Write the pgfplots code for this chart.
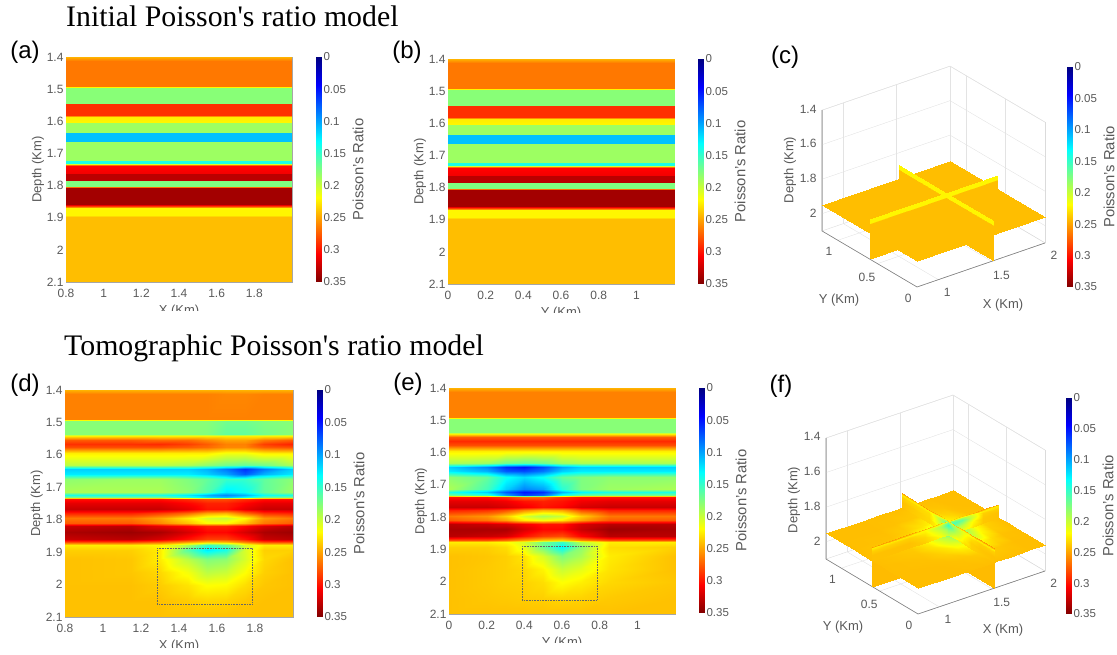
\documentclass[border=0pt]{standalone}
\usepackage{pgfplots}
\pgfplotsset{compat=1.18}
\usepackage{pgfplotstable}
\usepgfplotslibrary{patchplots}
\usepackage{fontspec}
\setmainfont{Liberation Sans}
\newfontfamily\serif{Liberation Serif}
\definecolor{tx}{gray}{0.35}
\pgfplotstableread[row sep=\\]{
u d m\\
0 1.40 .245\\1 1.40 .245\\0 1.412 .265\\1 1.412 .265\\0 1.49 .265\\1 1.49 .265\\0 1.496 .178\\1 1.496 .178\\
0 1.542 .178\\1 1.542 .178\\0 1.547 .29\\1 1.547 .29\\0 1.582 .29\\1 1.582 .29\\0 1.587 .225\\1 1.587 .225\\
0 1.602 .222\\1 1.602 .222\\0 1.606 .185\\1 1.606 .185\\0 1.633 .185\\1 1.633 .185\\0 1.636 .11\\1 1.636 .11\\
0 1.661 .11\\1 1.661 .11\\0 1.666 .185\\1 1.666 .185\\0 1.72 .185\\1 1.72 .185\\0 1.723 .14\\1 1.723 .14\\
0 1.731 .14\\1 1.731 .14\\0 1.736 .27\\1 1.736 .27\\0 1.74 .305\\1 1.74 .305\\0 1.76 .31\\1 1.76 .31\\
0 1.765 .33\\1 1.765 .33\\0 1.782 .33\\1 1.782 .33\\0 1.785 .265\\1 1.785 .265\\0 1.787 .175\\1 1.787 .175\\
0 1.80 .175\\1 1.80 .175\\0 1.804 .27\\1 1.804 .27\\0 1.808 .338\\1 1.808 .338\\0 1.858 .338\\1 1.858 .338\\
0 1.866 .26\\1 1.866 .26\\0 1.87 .222\\1 1.87 .222\\0 1.893 .222\\1 1.893 .222\\0 1.897 .241\\1 1.897 .241\\
0 2.1 .241\\1 2.1 .241\\
}\layered
\pgfplotstableread[row sep=\\]{
x d m\\
.8 1.40 .245\\1.15 1.40 .245\\1.3 1.40 .245\\1.45 1.40 .245\\1.55 1.40 .245\\1.65 1.40 .245\\1.75 1.40 .245\\1.85 1.40 .245\\2 1.40 .245\\
.8 1.412 .262\\1.15 1.412 .262\\1.3 1.412 .262\\1.45 1.412 .262\\1.55 1.412 .262\\1.65 1.412 .26\\1.75 1.412 .26\\1.85 1.412 .262\\2 1.412 .262\\
.8 1.49 .262\\1.15 1.49 .262\\1.3 1.49 .262\\1.45 1.49 .262\\1.55 1.49 .262\\1.65 1.49 .262\\1.75 1.49 .262\\1.85 1.49 .262\\2 1.49 .262\\
.8 1.497 .178\\1.15 1.497 .178\\1.3 1.497 .178\\1.45 1.497 .178\\1.55 1.497 .178\\1.65 1.497 .17\\1.75 1.497 .17\\1.85 1.497 .175\\2 1.497 .178\\
.8 1.535 .178\\1.15 1.535 .178\\1.3 1.535 .178\\1.45 1.535 .178\\1.55 1.535 .176\\1.65 1.535 .165\\1.75 1.535 .165\\1.85 1.535 .172\\2 1.535 .178\\
.8 1.542 .225\\1.15 1.542 .225\\1.3 1.542 .225\\1.45 1.542 .225\\1.55 1.542 .225\\1.65 1.542 .225\\1.75 1.542 .225\\1.85 1.542 .225\\2 1.542 .225\\
.8 1.553 .275\\1.15 1.553 .275\\1.3 1.553 .27\\1.45 1.553 .27\\1.55 1.553 .26\\1.65 1.553 .25\\1.75 1.553 .25\\1.85 1.553 .265\\2 1.553 .275\\
.8 1.565 .29\\1.15 1.565 .29\\1.3 1.565 .292\\1.45 1.565 .285\\1.55 1.565 .275\\1.65 1.565 .262\\1.75 1.565 .262\\1.85 1.565 .285\\2 1.565 .295\\
.8 1.577 .28\\1.15 1.577 .28\\1.3 1.577 .28\\1.45 1.577 .275\\1.55 1.577 .27\\1.65 1.577 .26\\1.75 1.577 .26\\1.85 1.577 .275\\2 1.577 .28\\
.8 1.595 .225\\1.15 1.595 .225\\1.3 1.595 .225\\1.45 1.595 .225\\1.55 1.595 .225\\1.65 1.595 .215\\1.75 1.595 .215\\1.85 1.595 .225\\2 1.595 .225\\
.8 1.632 .195\\1.15 1.632 .195\\1.3 1.632 .195\\1.45 1.632 .19\\1.55 1.632 .18\\1.65 1.632 .17\\1.75 1.632 .165\\1.85 1.632 .17\\2 1.632 .19\\
.8 1.645 .115\\1.15 1.645 .115\\1.3 1.645 .115\\1.45 1.645 .115\\1.55 1.645 .105\\1.65 1.645 .085\\1.75 1.645 .06\\1.85 1.645 .085\\2 1.645 .115\\
.8 1.658 .125\\1.15 1.658 .125\\1.3 1.658 .125\\1.45 1.658 .125\\1.55 1.658 .115\\1.65 1.658 .10\\1.75 1.658 .075\\1.85 1.658 .105\\2 1.658 .125\\
.8 1.675 .18\\1.15 1.675 .185\\1.3 1.675 .185\\1.45 1.675 .175\\1.55 1.675 .165\\1.65 1.675 .15\\1.75 1.675 .15\\1.85 1.675 .165\\2 1.675 .18\\
.8 1.714 .19\\1.15 1.714 .19\\1.3 1.714 .19\\1.45 1.714 .18\\1.55 1.714 .16\\1.65 1.714 .125\\1.75 1.714 .135\\1.85 1.714 .165\\2 1.714 .185\\
.8 1.723 .14\\1.15 1.723 .14\\1.3 1.723 .14\\1.45 1.723 .125\\1.55 1.723 .105\\1.65 1.723 .09\\1.75 1.723 .105\\1.85 1.723 .135\\2 1.723 .14\\
.8 1.731 .17\\1.15 1.731 .17\\1.3 1.731 .17\\1.45 1.731 .145\\1.55 1.731 .12\\1.65 1.731 .11\\1.75 1.731 .13\\1.85 1.731 .165\\2 1.731 .17\\
.8 1.737 .30\\1.15 1.737 .30\\1.3 1.737 .30\\1.45 1.737 .29\\1.55 1.737 .28\\1.65 1.737 .28\\1.75 1.737 .29\\1.85 1.737 .30\\2 1.737 .30\\
.8 1.75 .315\\1.15 1.75 .315\\1.3 1.75 .315\\1.45 1.75 .305\\1.55 1.75 .295\\1.65 1.75 .295\\1.75 1.75 .305\\1.85 1.75 .315\\2 1.75 .315\\
.8 1.768 .325\\1.15 1.768 .325\\1.3 1.768 .325\\1.45 1.768 .315\\1.55 1.768 .30\\1.65 1.768 .30\\1.75 1.768 .315\\1.85 1.768 .325\\2 1.768 .325\\
.8 1.778 .295\\1.15 1.778 .295\\1.3 1.778 .285\\1.45 1.778 .27\\1.55 1.778 .25\\1.65 1.778 .245\\1.75 1.778 .27\\1.85 1.778 .29\\2 1.778 .295\\
.8 1.795 .265\\1.15 1.795 .265\\1.3 1.795 .25\\1.45 1.795 .225\\1.55 1.795 .205\\1.65 1.795 .20\\1.75 1.795 .22\\1.85 1.795 .255\\2 1.795 .265\\
.8 1.81 .275\\1.15 1.81 .275\\1.3 1.81 .26\\1.45 1.81 .24\\1.55 1.81 .22\\1.65 1.81 .22\\1.75 1.81 .24\\1.85 1.81 .265\\2 1.81 .275\\
.8 1.82 .325\\1.15 1.82 .33\\1.3 1.82 .315\\1.45 1.82 .305\\1.55 1.82 .295\\1.65 1.82 .295\\1.75 1.82 .305\\1.85 1.82 .32\\2 1.82 .33\\
.8 1.838 .335\\1.15 1.838 .34\\1.3 1.838 .335\\1.45 1.838 .32\\1.55 1.838 .305\\1.65 1.838 .305\\1.75 1.838 .32\\1.85 1.838 .335\\2 1.838 .34\\
.8 1.858 .325\\1.15 1.858 .33\\1.3 1.858 .32\\1.45 1.858 .30\\1.55 1.858 .285\\1.65 1.858 .285\\1.75 1.858 .30\\1.85 1.858 .325\\2 1.858 .33\\
.8 1.87 .28\\1.15 1.87 .28\\1.3 1.87 .27\\1.45 1.87 .25\\1.55 1.87 .235\\1.65 1.87 .24\\1.75 1.87 .26\\1.85 1.87 .28\\2 1.87 .28\\
.8 1.878 .225\\1.15 1.878 .225\\1.3 1.878 .22\\1.45 1.878 .19\\1.55 1.878 .15\\1.65 1.878 .165\\1.75 1.878 .205\\1.85 1.878 .225\\2 1.878 .225\\
.8 1.893 .235\\1.15 1.893 .235\\1.3 1.893 .225\\1.45 1.893 .16\\1.55 1.893 .125\\1.65 1.893 .14\\1.75 1.893 .205\\1.85 1.893 .235\\2 1.893 .235\\
.8 1.92 .24\\1.15 1.92 .238\\1.3 1.92 .225\\1.45 1.92 .195\\1.55 1.92 .175\\1.65 1.92 .18\\1.75 1.92 .205\\1.85 1.92 .232\\2 1.92 .24\\
.8 1.96 .24\\1.15 1.96 .238\\1.3 1.96 .232\\1.45 1.96 .215\\1.55 1.96 .195\\1.65 1.96 .20\\1.75 1.96 .218\\1.85 1.96 .235\\2 1.96 .24\\
.8 2.0 .24\\1.15 2.0 .24\\1.3 2.0 .236\\1.45 2.0 .228\\1.55 2.0 .218\\1.65 2.0 .22\\1.75 2.0 .23\\1.85 2.0 .238\\2 2.0 .24\\
.8 2.05 .24\\1.15 2.05 .24\\1.3 2.05 .24\\1.45 2.05 .236\\1.55 2.05 .233\\1.65 2.05 .234\\1.75 2.05 .238\\1.85 2.05 .24\\2 2.05 .24\\
.8 2.1 .24\\1.15 2.1 .24\\1.3 2.1 .24\\1.45 2.1 .24\\1.55 2.1 .24\\1.65 2.1 .24\\1.75 2.1 .24\\1.85 2.1 .24\\2 2.1 .24\\
}\tomoX
\pgfplotstableread[row sep=\\]{
x d m\\
0 1.40 .245\\.2 1.40 .245\\.3 1.40 .245\\.4 1.40 .245\\.5 1.40 .245\\.6 1.40 .245\\.7 1.40 .245\\.85 1.40 .245\\1.2 1.40 .245\\
0 1.412 .262\\.2 1.412 .262\\.3 1.412 .262\\.4 1.412 .262\\.5 1.412 .262\\.6 1.412 .262\\.7 1.412 .262\\.85 1.412 .262\\1.2 1.412 .262\\
0 1.49 .262\\.2 1.49 .262\\.3 1.49 .262\\.4 1.49 .262\\.5 1.49 .262\\.6 1.49 .262\\.7 1.49 .262\\.85 1.49 .262\\1.2 1.49 .262\\
0 1.497 .178\\.2 1.497 .178\\.3 1.497 .178\\.4 1.497 .178\\.5 1.497 .178\\.6 1.497 .178\\.7 1.497 .178\\.85 1.497 .178\\1.2 1.497 .178\\
0 1.535 .178\\.2 1.535 .178\\.3 1.535 .178\\.4 1.535 .178\\.5 1.535 .178\\.6 1.535 .178\\.7 1.535 .178\\.85 1.535 .178\\1.2 1.535 .178\\
0 1.542 .225\\.2 1.542 .225\\.3 1.542 .225\\.4 1.542 .225\\.5 1.542 .225\\.6 1.542 .225\\.7 1.542 .225\\.85 1.542 .225\\1.2 1.542 .225\\
0 1.553 .275\\.2 1.553 .275\\.3 1.553 .275\\.4 1.553 .275\\.5 1.553 .275\\.6 1.553 .275\\.7 1.553 .275\\.85 1.553 .275\\1.2 1.553 .275\\
0 1.565 .292\\.2 1.565 .292\\.3 1.565 .292\\.4 1.565 .292\\.5 1.565 .292\\.6 1.565 .292\\.7 1.565 .292\\.85 1.565 .292\\1.2 1.565 .292\\
0 1.577 .28\\.2 1.577 .28\\.3 1.577 .28\\.4 1.577 .28\\.5 1.577 .28\\.6 1.577 .28\\.7 1.577 .28\\.85 1.577 .28\\1.2 1.577 .28\\
0 1.595 .225\\.2 1.595 .225\\.3 1.595 .225\\.4 1.595 .225\\.5 1.595 .225\\.6 1.595 .225\\.7 1.595 .225\\.85 1.595 .225\\1.2 1.595 .225\\
0 1.632 .19\\.2 1.632 .185\\.3 1.632 .17\\.4 1.632 .165\\.5 1.632 .17\\.6 1.632 .185\\.7 1.632 .19\\.85 1.632 .19\\1.2 1.632 .19\\
0 1.645 .115\\.2 1.645 .09\\.3 1.645 .06\\.4 1.645 .05\\.5 1.645 .07\\.6 1.645 .10\\.7 1.645 .115\\.85 1.645 .115\\1.2 1.645 .115\\
0 1.658 .125\\.2 1.658 .105\\.3 1.658 .075\\.4 1.658 .07\\.5 1.658 .085\\.6 1.658 .115\\.7 1.658 .125\\.85 1.658 .125\\1.2 1.658 .125\\
0 1.675 .18\\.2 1.675 .165\\.3 1.675 .135\\.4 1.675 .12\\.5 1.675 .135\\.6 1.675 .165\\.7 1.675 .175\\.85 1.675 .18\\1.2 1.675 .18\\
0 1.714 .19\\.2 1.714 .155\\.3 1.714 .115\\.4 1.714 .09\\.5 1.714 .10\\.6 1.714 .145\\.7 1.714 .175\\.85 1.714 .185\\1.2 1.714 .19\\
0 1.723 .14\\.2 1.723 .115\\.3 1.723 .075\\.4 1.723 .05\\.5 1.723 .06\\.6 1.723 .105\\.7 1.723 .13\\.85 1.723 .14\\1.2 1.723 .14\\
0 1.731 .17\\.2 1.731 .15\\.3 1.731 .10\\.4 1.731 .065\\.5 1.731 .08\\.6 1.731 .14\\.7 1.731 .165\\.85 1.731 .17\\1.2 1.731 .17\\
0 1.737 .30\\.2 1.737 .30\\.3 1.737 .29\\.4 1.737 .27\\.5 1.737 .27\\.6 1.737 .29\\.7 1.737 .30\\.85 1.737 .30\\1.2 1.737 .30\\
0 1.75 .315\\.2 1.75 .315\\.3 1.75 .31\\.4 1.75 .30\\.5 1.75 .295\\.6 1.75 .30\\.7 1.75 .31\\.85 1.75 .315\\1.2 1.75 .315\\
0 1.768 .325\\.2 1.768 .325\\.3 1.768 .32\\.4 1.768 .31\\.5 1.768 .30\\.6 1.768 .305\\.7 1.768 .32\\.85 1.768 .325\\1.2 1.768 .325\\
0 1.778 .295\\.2 1.778 .29\\.3 1.778 .28\\.4 1.778 .26\\.5 1.778 .245\\.6 1.778 .25\\.7 1.778 .28\\.85 1.778 .295\\1.2 1.778 .295\\
0 1.795 .265\\.2 1.795 .255\\.3 1.795 .235\\.4 1.795 .205\\.5 1.795 .19\\.6 1.795 .20\\.7 1.795 .235\\.85 1.795 .265\\1.2 1.795 .265\\
0 1.81 .275\\.2 1.81 .265\\.3 1.81 .25\\.4 1.81 .225\\.5 1.81 .215\\.6 1.81 .225\\.7 1.81 .25\\.85 1.81 .275\\1.2 1.81 .275\\
0 1.82 .33\\.2 1.82 .325\\.3 1.82 .32\\.4 1.82 .31\\.5 1.82 .30\\.6 1.82 .30\\.7 1.82 .32\\.85 1.82 .33\\1.2 1.82 .33\\
0 1.838 .335\\.2 1.838 .335\\.3 1.838 .335\\.4 1.838 .32\\.5 1.838 .305\\.6 1.838 .305\\.7 1.838 .325\\.85 1.838 .34\\1.2 1.838 .335\\
0 1.858 .33\\.2 1.858 .325\\.3 1.858 .32\\.4 1.858 .30\\.5 1.858 .285\\.6 1.858 .28\\.7 1.858 .305\\.85 1.858 .33\\1.2 1.858 .33\\
0 1.87 .28\\.2 1.87 .28\\.3 1.87 .27\\.4 1.87 .255\\.5 1.87 .24\\.6 1.87 .235\\.7 1.87 .26\\.85 1.87 .28\\1.2 1.87 .28\\
0 1.878 .225\\.2 1.878 .225\\.3 1.878 .22\\.4 1.878 .205\\.5 1.878 .17\\.6 1.878 .15\\.7 1.878 .195\\.85 1.878 .225\\1.2 1.878 .225\\
0 1.893 .235\\.2 1.893 .235\\.3 1.893 .23\\.4 1.893 .21\\.5 1.893 .17\\.6 1.893 .13\\.7 1.893 .18\\.85 1.893 .23\\1.2 1.893 .235\\
0 1.92 .24\\.2 1.92 .238\\.3 1.92 .235\\.4 1.92 .228\\.5 1.92 .205\\.6 1.92 .175\\.7 1.92 .19\\.85 1.92 .225\\1.2 1.92 .24\\
0 1.96 .24\\.2 1.96 .237\\.3 1.96 .235\\.4 1.96 .232\\.5 1.96 .222\\.6 1.96 .20\\.7 1.96 .21\\.85 1.96 .228\\1.2 1.96 .24\\
0 2.0 .24\\.2 2.0 .237\\.3 2.0 .235\\.4 2.0 .234\\.5 2.0 .23\\.6 2.0 .218\\.7 2.0 .224\\.85 2.0 .232\\1.2 2.0 .238\\
0 2.05 .24\\.2 2.05 .238\\.3 2.05 .237\\.4 2.05 .236\\.5 2.05 .235\\.6 2.05 .233\\.7 2.05 .234\\.85 2.05 .237\\1.2 2.05 .24\\
0 2.1 .24\\.2 2.1 .24\\.3 2.1 .24\\.4 2.1 .24\\.5 2.1 .24\\.6 2.1 .24\\.7 2.1 .24\\.85 2.1 .24\\1.2 2.1 .24\\
}\tomoY
\pgfplotsset{
 sl/.style={surf,shader=interp,mesh/cols=#1,point meta=explicit},
 base/.style={colormap/jet,point meta min=0,point meta max=0.35,
  tick label style={font=\fontsize{12}{12}\selectfont,text=tx},
  label style={font=\fontsize{13}{14}\selectfont,text=tx},
  axis line style={draw=black!35},major tick length=0pt},
 flat2d/.style={base,scale only axis,width=226pt,height=225pt,y dir=reverse,ymin=1.4,ymax=2.1,
  ytick={1.4,1.5,1.6,1.7,1.8,1.9,2,2.1},yticklabels={1.4,1.5,1.6,1.7,1.8,1.9,2,2.1},
  ylabel={Depth (Km)},ylabel style={at={(axis description cs:-0.124,0.5)},anchor=center},
  xlabel style={at={(axis description cs:0.5,-0.088)},anchor=north},
  xticklabel style={yshift=-4pt},yticklabel style={xshift=1pt}},
 xpanel/.style={xmin=0.8,xmax=2,xtick={0.8,1,1.2,1.4,1.6,1.8},xticklabels={0.8,1,1.2,1.4,1.6,1.8},xlabel={X (Km)}},
 ypanel/.style={xmin=0,xmax=1.2,xtick={0,0.2,0.4,0.6,0.8,1},xticklabels={0,0.2,0.4,0.6,0.8,1},xlabel={Y (Km)}},
 box3d/.style={base,z dir=reverse,clip=false,
  xmin=0.8,xmax=2,ymin=0,ymax=1.2,zmin=1.4,zmax=2.1,xtick={1,1.5,2},ytick={0,0.5,1},ztick={1.4,1.6,1.8,2},
  xticklabels={1,1.5,2},yticklabels={0,0.5,1},zticklabels={1.4,1.6,1.8,2},
  xticklabel style={xshift=4pt,yshift=-4pt},yticklabel style={xshift=-3pt,yshift=-3pt},zticklabel style={xshift=-2pt},
  axis line style={draw=black!14},grid=major,grid style={black!11}},
 edges/.style={black!50,line width=0.6pt},
}
\newcommand\cbar[3]{\begin{axis}[base,at={(#1pt,#2pt)},anchor=north west,scale only axis,width=5pt,height=#3pt,xmin=0,xmax=1,ymin=0,ymax=0.35,y dir=reverse,
 xtick=\empty,ytick={0,0.05,0.1,0.15,0.2,0.25,0.3,0.35},yticklabels={0,0.05,0.1,0.15,0.2,0.25,0.3,0.35},yticklabel pos=right,
 axis line style={draw=none},ylabel={Poisson's Ratio},
 ylabel style={font=\fontsize{14.8}{15}\selectfont,text=tx,at={(axis description cs:8.4,0.5)},anchor=center},
 tick label style={font=\fontsize{11.5}{12}\selectfont,text=tx,xshift=-1pt}]
 \addplot[sl=2] table[meta=m,row sep=\\]{x y m\\0 0 0\\1 0 0\\0 0.35 0.35\\1 0.35 0.35\\};
 \end{axis}}
\newcommand\lowerpart[1]{
\addplot3[sl=2] table[meta=m,row sep=\\]{x y z m\\0.8 0.6 1.95 #1\\2 0.6 1.95 #1\\0.8 0.6 2.1 #1\\2 0.6 2.1 #1\\};
\addplot3[sl=2] table[meta=m,row sep=\\]{x y z m\\1.52 0 1.95 #1\\1.52 1.2 1.95 #1\\1.52 0 2.1 #1\\1.52 1.2 2.1 #1\\};}
\newcommand\frontedges{\addplot3[edges] coordinates {(0.8,1.2,1.4) (0.8,1.2,2.1) (0.8,0,2.1) (2,0,2.1)};}
\newcommand\arm[4]{\addplot3[sl=2] table[meta=m,row sep=\\]{x y z m\\#1 #2 1.87 .222\\#3 #4 1.87 .222\\#1 #2 1.893 .222\\#3 #4 1.893 .222\\#1 #2 1.897 .241\\#3 #4 1.897 .241\\#1 #2 1.95 .241\\#3 #4 1.95 .241\\};}
\newcommand\cropbox[3]{\fill[white] (#1pt,#2pt) rectangle (#3);}
\newcommand\tlab[3]{\node[font=\fontsize{24}{24}\selectfont,inner sep=0pt] at (#1pt,#2pt) {(#3)};}
\begin{document}
\begin{tikzpicture}
\path[use as bounding box] (0,0) rectangle (1117pt,655pt);
\node[anchor=base west,inner sep=0pt,font=\serif\fontsize{29.8}{30}\selectfont] at (66pt,628pt) {Initial Poisson's ratio model};
\node[anchor=base west,inner sep=0pt,font=\serif\fontsize{29.8}{30}\selectfont] at (64pt,299pt) {Tomographic Poisson's ratio model};
\tlab{25}{603}{a}\tlab{407}{603}{b}\tlab{785}{598}{c}\tlab{25}{270}{d}\tlab{408}{271}{e}\tlab{781}{269}{f}
% (a)
\begin{axis}[flat2d,xpanel,at={(66pt,373pt)},anchor=south west]
\addplot[sl=2] table[x expr=0.8+1.2*\thisrow{u},y=d,meta=m]{\layered};
\end{axis}
\cropbox{40}{325}{300pt,344pt}
\cbar{316}{598}{225}
% (b)
\begin{axis}[flat2d,ypanel,at={(448pt,371pt)},anchor=south west]
\addplot[sl=2] table[x expr=1.2*\thisrow{u},y=d,meta=m]{\layered};
\end{axis}
\cropbox{425}{325}{685pt,342pt}
\cbar{698}{596}{225}
% (c)
\begin{axis}[box3d,x={(106.7pt,36.7pt)},y={(-79.2pt,46.7pt)},z={(0pt,172.5pt)},at={(822pt,368pt)},anchor=south west]
\frontedges
\lowerpart{.241}
\addplot3[sl=2] table[meta=m,row sep=\\]{x y z m\\0.8 0 1.95 .241\\2 0 1.95 .241\\0.8 1.2 1.95 .241\\2 1.2 1.95 .241\\};
\arm{1.52}{0.6}{1.52}{1.2}
\arm{1.52}{0.6}{2}{0.6}
\arm{0.8}{0.6}{1.52}{0.6}
\arm{1.52}{0}{1.52}{0.6}
\end{axis}
\cbar{1067}{588}{220}
\node[font=\fontsize{13}{14}\selectfont,text=tx] at (1003pt,350pt) {X (Km)};
\node[font=\fontsize{13}{14}\selectfont,text=tx] at (839pt,355pt) {Y (Km)};
\node[font=\fontsize{13}{14}\selectfont,text=tx,rotate=90] at (790pt,485pt) {Depth (Km)};
% (d)
\begin{axis}[flat2d,xpanel,width=228pt,height=227pt,at={(65pt,38pt)},anchor=south west]
\addplot[sl=9] table[x=x,y=d,meta=m]{\tomoX};
\addplot[black!60,densely dotted,line width=0.6pt] coordinates {(1.284,1.888) (1.784,1.888) (1.784,2.06) (1.284,2.06) (1.284,1.888)};
\end{axis}
\cropbox{40}{0}{300pt,7pt}
\cbar{317}{265}{227}
% (e)
\begin{axis}[flat2d,ypanel,width=226pt,height=226pt,at={(449pt,41pt)},anchor=south west]
\addplot[sl=9] table[x=x,y=d,meta=m]{\tomoY};
\addplot[black!60,densely dotted,line width=0.6pt] coordinates {(0.388,1.889) (0.786,1.889) (0.786,2.057) (0.388,2.057) (0.388,1.889)};
\end{axis}
\cropbox{425}{0}{685pt,12pt}
\cbar{699}{267}{225}
% (f)
\begin{axis}[box3d,x={(105.8pt,35.8pt)},y={(-76.7pt,45.8pt)},z={(0pt,172.9pt)},at={(826pt,41pt)},anchor=south west]
\frontedges
\lowerpart{.242}
\addplot3[sl=9] table[meta=m,row sep=\\]{
x y z m\\
.8 0 1.95 .241\\1.15 0 1.95 .241\\1.3 0 1.95 .241\\1.45 0 1.95 .241\\1.55 0 1.95 .241\\1.65 0 1.95 .241\\1.75 0 1.95 .241\\1.85 0 1.95 .241\\2 0 1.95 .241\\
.8 .2 1.95 .241\\1.15 .2 1.95 .241\\1.3 .2 1.95 .24\\1.45 .2 1.95 .238\\1.55 .2 1.95 .236\\1.65 .2 1.95 .237\\1.75 .2 1.95 .239\\1.85 .2 1.95 .241\\2 .2 1.95 .241\\
.8 .35 1.95 .241\\1.15 .35 1.95 .24\\1.3 .35 1.95 .235\\1.45 .35 1.95 .225\\1.55 .35 1.95 .22\\1.65 .35 1.95 .222\\1.75 .35 1.95 .232\\1.85 .35 1.95 .24\\2 .35 1.95 .241\\
.8 .5 1.95 .241\\1.15 .5 1.95 .238\\1.3 .5 1.95 .228\\1.45 .5 1.95 .205\\1.55 .5 1.95 .19\\1.65 .5 1.95 .195\\1.75 .5 1.95 .22\\1.85 .5 1.95 .236\\2 .5 1.95 .241\\
.8 .6 1.95 .241\\1.15 .6 1.95 .237\\1.3 .6 1.95 .225\\1.45 .6 1.95 .195\\1.55 .6 1.95 .16\\1.65 .6 1.95 .18\\1.75 .6 1.95 .215\\1.85 .6 1.95 .235\\2 .6 1.95 .241\\
.8 .7 1.95 .241\\1.15 .7 1.95 .238\\1.3 .7 1.95 .23\\1.45 .7 1.95 .21\\1.55 .7 1.95 .19\\1.65 .7 1.95 .195\\1.75 .7 1.95 .222\\1.85 .7 1.95 .237\\2 .7 1.95 .241\\
.8 .85 1.95 .241\\1.15 .85 1.95 .24\\1.3 .85 1.95 .236\\1.45 .85 1.95 .228\\1.55 .85 1.95 .222\\1.65 .85 1.95 .225\\1.75 .85 1.95 .233\\1.85 .85 1.95 .24\\2 .85 1.95 .241\\
.8 1 1.95 .241\\1.15 1 1.95 .241\\1.3 1 1.95 .24\\1.45 1 1.95 .238\\1.55 1 1.95 .236\\1.65 1 1.95 .237\\1.75 1 1.95 .239\\1.85 1 1.95 .241\\2 1 1.95 .241\\
.8 1.2 1.95 .241\\1.15 1.2 1.95 .241\\1.3 1.2 1.95 .241\\1.45 1.2 1.95 .241\\1.55 1.2 1.95 .241\\1.65 1.2 1.95 .241\\1.75 1.2 1.95 .241\\1.85 1.2 1.95 .241\\2 1.2 1.95 .241\\
};
% arm X=1.52, Y .6 to 1.2
\addplot3[sl=4] table[meta=m,row sep=\\]{
x y z m\\
1.52 .6 1.87 .235\\1.52 .7 1.87 .245\\1.52 .85 1.87 .255\\1.52 1.2 1.87 .255\\
1.52 .6 1.878 .175\\1.52 .7 1.878 .20\\1.52 .85 1.878 .225\\1.52 1.2 1.878 .225\\
1.52 .6 1.893 .15\\1.52 .7 1.893 .19\\1.52 .85 1.893 .23\\1.52 1.2 1.893 .235\\
1.52 .6 1.92 .18\\1.52 .7 1.92 .20\\1.52 .85 1.92 .232\\1.52 1.2 1.92 .24\\
1.52 .6 1.95 .20\\1.52 .7 1.95 .215\\1.52 .85 1.95 .232\\1.52 1.2 1.95 .24\\
};
% arm Y=.6, X 1.52 to 2
\addplot3[sl=5] table[meta=m,row sep=\\]{
x y z m\\
1.52 .6 1.87 .235\\1.65 .6 1.87 .24\\1.75 .6 1.87 .25\\1.85 .6 1.87 .255\\2 .6 1.87 .255\\
1.52 .6 1.878 .175\\1.65 .6 1.878 .185\\1.75 .6 1.878 .21\\1.85 .6 1.878 .225\\2 .6 1.878 .225\\
1.52 .6 1.893 .15\\1.65 .6 1.893 .165\\1.75 .6 1.893 .205\\1.85 .6 1.893 .235\\2 .6 1.893 .235\\
1.52 .6 1.92 .185\\1.65 .6 1.92 .195\\1.75 .6 1.92 .22\\1.85 .6 1.92 .238\\2 .6 1.92 .24\\
1.52 .6 1.95 .20\\1.65 .6 1.95 .21\\1.75 .6 1.95 .228\\1.85 .6 1.95 .238\\2 .6 1.95 .24\\
};
% arm Y=.6, X .8 to 1.52
\addplot3[sl=5] table[meta=m,row sep=\\]{
x y z m\\
.8 .6 1.87 .255\\1.15 .6 1.87 .255\\1.3 .6 1.87 .25\\1.45 .6 1.87 .24\\1.52 .6 1.87 .235\\
.8 .6 1.878 .225\\1.15 .6 1.878 .225\\1.3 .6 1.878 .22\\1.45 .6 1.878 .20\\1.52 .6 1.878 .175\\
.8 .6 1.893 .235\\1.15 .6 1.893 .235\\1.3 .6 1.893 .225\\1.45 .6 1.893 .19\\1.52 .6 1.893 .15\\
.8 .6 1.92 .24\\1.15 .6 1.92 .24\\1.3 .6 1.92 .232\\1.45 .6 1.92 .205\\1.52 .6 1.92 .185\\
.8 .6 1.95 .24\\1.15 .6 1.95 .24\\1.3 .6 1.95 .236\\1.45 .6 1.95 .22\\1.52 .6 1.95 .20\\
};
% arm X=1.52, Y 0 to .6
\addplot3[sl=6] table[meta=m,row sep=\\]{
x y z m\\
1.52 0 1.87 .255\\1.52 .2 1.87 .255\\1.52 .3 1.87 .25\\1.52 .4 1.87 .245\\1.52 .5 1.87 .24\\1.52 .6 1.87 .235\\
1.52 0 1.878 .225\\1.52 .2 1.878 .225\\1.52 .3 1.878 .22\\1.52 .4 1.878 .21\\1.52 .5 1.878 .19\\1.52 .6 1.878 .175\\
1.52 0 1.893 .235\\1.52 .2 1.893 .235\\1.52 .3 1.893 .23\\1.52 .4 1.893 .215\\1.52 .5 1.893 .19\\1.52 .6 1.893 .15\\
1.52 0 1.92 .24\\1.52 .2 1.92 .238\\1.52 .3 1.92 .235\\1.52 .4 1.92 .222\\1.52 .5 1.92 .20\\1.52 .6 1.92 .18\\
1.52 0 1.95 .24\\1.52 .2 1.95 .237\\1.52 .3 1.95 .235\\1.52 .4 1.95 .23\\1.52 .5 1.95 .22\\1.52 .6 1.95 .20\\
};
\end{axis}
\cbar{1066}{257}{216}
\node[font=\fontsize{13}{14}\selectfont,text=tx] at (1003pt,25pt) {X (Km)};
\node[font=\fontsize{13}{14}\selectfont,text=tx] at (843pt,28pt) {Y (Km)};
\node[font=\fontsize{13}{14}\selectfont,text=tx,rotate=90] at (794pt,155pt) {Depth (Km)};
\end{tikzpicture}
\end{document}
